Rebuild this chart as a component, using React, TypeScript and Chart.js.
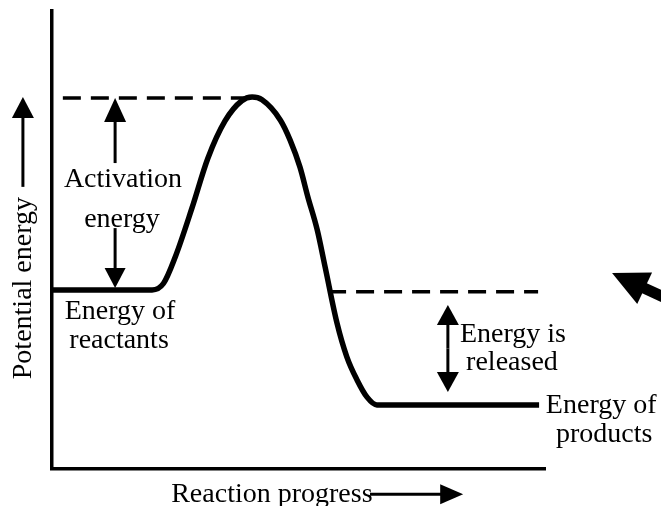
import React, { useEffect, useRef } from "react";
import { Chart, registerables } from "chart.js";

Chart.register(...registerables);

// Energy profile curve (x: reaction progress 0-100, y: potential energy 0-100)
const curveX = [0, 20.3, 22.6, 25.0, 28.4, 31.6, 35.1, 38.5, 40.6, 42.6, 46.3, 48.3, 50.3, 51.9, 53.8, 55.4, 57.8, 59.8, 61.9, 63.9, 65.9, 98.8];
const curveY = [39.1, 39.1, 40.5, 46.3, 57.0, 67.8, 76.0, 80.4, 81.2, 80.6, 76.2, 71.8, 65.9, 59.4, 52.2, 44.1, 31.9, 24.5, 19.4, 15.7, 14.0, 14.0];

// Dashed reference levels
const peakDashX = [2.2, 40.2];
const peakDashY = [81.0, 81.0];
const reactDashX = [56.0, 98.6];
const reactDashY = [38.7, 38.7];

// Text labels (center x, baseline y in data units)
const labelTexts = ["Activation", "energy", "Energy of", "reactants", "Energy is", "released", "Energy of", "products", "Reaction progress"];
const labelX = [14.4, 14.2, 13.8, 13.6, 93.5, 93.3, 111.4, 112.0, 44.6];
const labelY = [61.6, 52.8, 32.8, 26.4, 27.7, 21.6, 12.2, 5.9, -7.2];

const yTitle = "Potential energy";
const yTitleX = -4.3;
const yTitleY = 39.5;

// Arrows: tail (x1,y1) -> tip (x2,y2)
const arrowX1 = [12.8, 12.8, 80.3, 80.3, -5.9, 64.5, 124.9];
const arrowY1 = [66.8, 52.6, 26.3, 26.3, 61.6, -5.5, 37.1];
const arrowX2 = [12.8, 12.8, 80.3, 80.3, -5.9, 83.4, 113.6];
const arrowY2 = [81.0, 39.5, 35.8, 16.8, 81.2, -5.5, 42.8];
const arrowHead = [24, 20, 20, 20, 21, 23, 36];
const arrowWidth = [22, 21, 22, 22, 22, 20, 35];
const arrowLine = [3, 3, 3, 3, 3, 3, 11];

function drawArrow(ctx: CanvasRenderingContext2D, x1: number, y1: number, x2: number, y2: number, head: number, width: number, lw: number) {
  const dx = x2 - x1;
  const dy = y2 - y1;
  const len = Math.hypot(dx, dy);
  const ux = dx / len;
  const uy = dy / len;
  const bx = x2 - ux * head;
  const by = y2 - uy * head;
  ctx.lineWidth = lw;
  ctx.lineCap = "butt";
  ctx.beginPath();
  ctx.moveTo(x1, y1);
  ctx.lineTo(bx + ux * 2, by + uy * 2);
  ctx.stroke();
  ctx.beginPath();
  ctx.moveTo(x2, y2);
  ctx.lineTo(bx - (uy * width) / 2, by + (ux * width) / 2);
  ctx.lineTo(bx + (uy * width) / 2, by - (ux * width) / 2);
  ctx.closePath();
  ctx.fill();
}

const annotationPlugin = {
  id: "energyAnnotations",
  afterDraw(chart: any) {
    const ctx: CanvasRenderingContext2D = chart.ctx;
    const xs = chart.scales.x;
    const ys = chart.scales.y;
    const px = (v: number) => xs.getPixelForValue(v);
    const py = (v: number) => ys.getPixelForValue(v);
    ctx.save();
    ctx.fillStyle = "#000";
    ctx.strokeStyle = "#000";
    ctx.font = '28px "Liberation Serif", "Times New Roman", serif';
    ctx.textAlign = "center";
    ctx.textBaseline = "alphabetic";
    labelTexts.forEach((t, i) => {
      ctx.fillText(t, px(labelX[i]), py(labelY[i]));
    });
    ctx.save();
    ctx.translate(px(yTitleX), py(yTitleY));
    ctx.rotate(-Math.PI / 2);
    ctx.fillText(yTitle, 0, 0);
    ctx.restore();
    arrowX1.forEach((_, i) => {
      drawArrow(ctx, px(arrowX1[i]), py(arrowY1[i]), px(arrowX2[i]), py(arrowY2[i]), arrowHead[i], arrowWidth[i], arrowLine[i]);
    });
    ctx.restore();
  },
};

export default function App() {
  const canvasRef = useRef<HTMLCanvasElement | null>(null);

  useEffect(() => {
    if (!canvasRef.current) return;
    const toPts = (xs: number[], ys: number[]) => xs.map((x, i) => ({ x, y: ys[i] }));
    const chart = new Chart(canvasRef.current, {
      type: "line",
      data: {
        datasets: [
          {
            data: toPts(curveX, curveY),
            borderColor: "#000",
            borderWidth: 5.5,
            pointRadius: 0,
            cubicInterpolationMode: "monotone",
            fill: false,
            clip: false as any,
          },
          {
            data: toPts(peakDashX, peakDashY),
            borderColor: "#000",
            borderWidth: 3.5,
            borderDash: [18, 10],
            pointRadius: 0,
            fill: false,
          },
          {
            data: toPts(reactDashX, reactDashY),
            borderColor: "#000",
            borderWidth: 3.5,
            borderDash: [18, 10],
            pointRadius: 0,
            fill: false,
          },
        ],
      },
      options: {
        responsive: false,
        animation: false,
        layout: { padding: { left: 52, right: 116, top: 11, bottom: 37 } },
        plugins: { legend: { display: false }, tooltip: { enabled: false } },
        scales: {
          x: {
            type: "linear",
            min: 0,
            max: 100,
            ticks: { display: false },
            grid: { display: false, drawTicks: false },
            border: { display: true, color: "#000", width: 3.5 },
          },
          y: {
            type: "linear",
            min: 0,
            max: 100,
            ticks: { display: false },
            grid: { display: false, drawTicks: false },
            border: { display: true, color: "#000", width: 3.5 },
          },
        },
      },
      plugins: [annotationPlugin],
    });
    return () => chart.destroy();
  }, []);

  return (
    <div style={{ position: "absolute", left: 0, top: 0, width: 661, height: 506, background: "#fff" }}>
      <canvas ref={canvasRef} width={661} height={506} style={{ display: "block" }} />
    </div>
  );
}
